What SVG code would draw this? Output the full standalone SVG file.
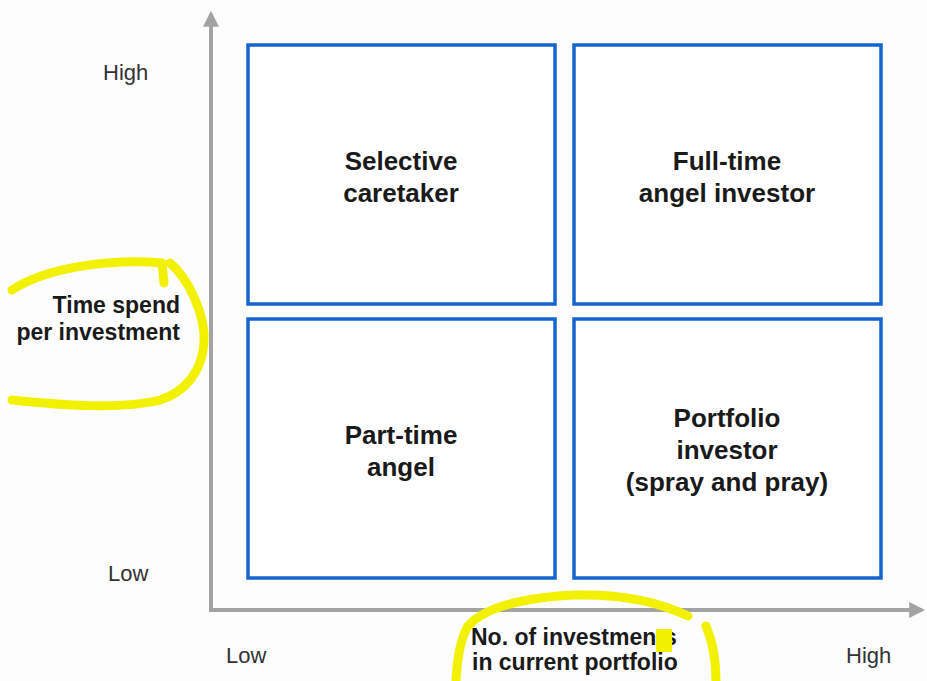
<svg xmlns="http://www.w3.org/2000/svg" width="927" height="681" viewBox="0 0 927 681">
<defs>
<style>
.box{fill:#ffffff;stroke:#1565d0;stroke-width:3.5}
.lbl{font-family:"Liberation Sans",Arial,sans-serif;font-weight:bold;font-size:26px;fill:#1a1a1a;text-anchor:middle}
.ax{font-family:"Liberation Sans",Arial,sans-serif;font-size:22px;fill:#333333}
.axb{font-family:"Liberation Sans",Arial,sans-serif;font-weight:bold;font-size:23px;fill:#1a1a1a}
.axis{stroke:#a3a3a3;stroke-width:4;fill:none}
.hl{stroke:#f2f200;stroke-width:9;fill:none;stroke-linecap:round;stroke-linejoin:round}
</style>
<marker id="arr" viewBox="0 0 10 10" refX="8" refY="5" markerWidth="4" markerHeight="4" orient="auto" markerUnits="strokeWidth">
<path d="M0,0 L10,5 L0,10 z" fill="#a3a3a3"/>
</marker>
</defs>
<rect width="927" height="681" fill="#fdfdfd"/>
<g id="connectors">
<line class="axis" x1="211" y1="610" x2="211" y2="14" marker-end="url(#arr)"/>
<line class="axis" x1="209" y1="610" x2="922" y2="610" marker-end="url(#arr)"/>
</g>
<g id="node-selective">
<rect class="box" x="248" y="45" width="307" height="259"/>
<text class="lbl" x="401" y="170">Selective</text>
<text class="lbl" x="401" y="202">caretaker</text>
</g>
<g id="node-fulltime">
<rect class="box" x="574" y="45" width="307" height="259"/>
<text class="lbl" x="727" y="170">Full-time</text>
<text class="lbl" x="727" y="202">angel investor</text>
</g>
<g id="node-parttime">
<rect class="box" x="248" y="319" width="307" height="259"/>
<text class="lbl" x="401" y="444">Part-time</text>
<text class="lbl" x="401" y="476">angel</text>
</g>
<g id="node-portfolio">
<rect class="box" x="574" y="319" width="307" height="259"/>
<text class="lbl" x="727" y="427">Portfolio</text>
<text class="lbl" x="727" y="459">investor</text>
<text class="lbl" x="727" y="491">(spray and pray)</text>
</g>
<g id="highlights">
<path class="hl" d="M12,290 C45,268 110,258 162,263 M162,263 L164,283"/>
<path class="hl" d="M170,263 C188,278 206,315 204,343 C202,372 185,392 160,400 C120,410 60,405 12,400"/>
<path class="hl" d="M456,681 C457,660 460,640 468,626 C488,604 535,597 575,595 C615,594 655,600 688,616"/>
<path class="hl" d="M706,626 C712,640 716,660 716,681"/>
</g>
<g id="axis-labels">
<text class="ax" x="103" y="80">High</text>
<text class="ax" x="108" y="581">Low</text>
<text class="ax" x="226" y="663">Low</text>
<text class="ax" x="846" y="663">High</text>
<text class="axb" x="180" y="313" text-anchor="end">Time spend</text>
<text class="axb" x="180" y="340" text-anchor="end">per investment</text>
<text class="axb" x="471" y="645">No. of investments</text>
<text class="axb" x="472" y="670">in current portfolio</text>
</g>
<rect x="656" y="629" width="16" height="23" fill="#f2f200"/>
</svg>
